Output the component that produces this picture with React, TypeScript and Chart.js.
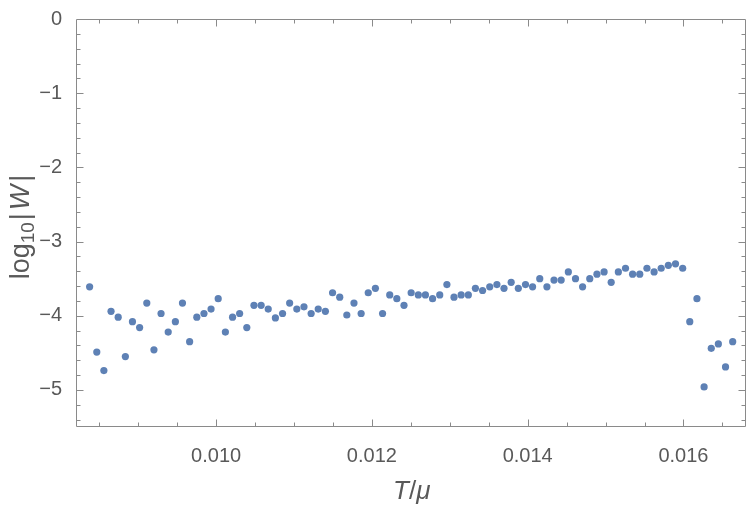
import React, { useEffect, useRef } from "react";
import { Chart, registerables } from "chart.js";

Chart.register(...registerables);

// T/mu values (x)
const T_OVER_MU = [
  0.008376, 0.008468, 0.008559, 0.008651, 0.008743, 0.008835, 0.008926, 0.009018, 0.00911, 0.009202,
  0.009293, 0.009385, 0.009477, 0.009568, 0.00966, 0.009752, 0.009844, 0.009935, 0.010027, 0.010119,
  0.010211, 0.010302, 0.010394, 0.010486, 0.010578, 0.010669, 0.010761, 0.010853, 0.010944, 0.011036,
  0.011128, 0.01122, 0.011311, 0.011403, 0.011495, 0.011587, 0.011678, 0.01177, 0.011862, 0.011953,
  0.012045, 0.012137, 0.012229, 0.01232, 0.012412, 0.012504, 0.012596, 0.012687, 0.012779, 0.012871,
  0.012963, 0.013054, 0.013146, 0.013238, 0.013329, 0.013421, 0.013513, 0.013605, 0.013696, 0.013788,
  0.01388, 0.013972, 0.014063, 0.014155, 0.014247, 0.014338, 0.01443, 0.014522, 0.014614, 0.014705,
  0.014797, 0.014889, 0.014981, 0.015072, 0.015164, 0.015256, 0.015347, 0.015439, 0.015531, 0.015623,
  0.015714, 0.015806, 0.015898, 0.01599, 0.016081, 0.016173, 0.016265, 0.016357, 0.016448, 0.01654,
  0.016632,
];

// log10|W| values (y)
const LOG10_W = [
  -3.61, -4.49, -4.74, -3.94, -4.02, -4.55, -4.08, -4.16, -3.83, -4.46,
  -3.97, -4.22, -4.08, -3.83, -4.35, -4.02, -3.97, -3.91, -3.77, -4.22,
  -4.02, -3.97, -4.16, -3.86, -3.86, -3.91, -4.03, -3.97, -3.83, -3.91,
  -3.88, -3.97, -3.91, -3.94, -3.69, -3.75, -3.99, -3.83, -3.97, -3.69,
  -3.63, -3.97, -3.72, -3.77, -3.86, -3.69, -3.72, -3.72, -3.77, -3.72,
  -3.58, -3.75, -3.72, -3.72, -3.63, -3.66, -3.61, -3.58, -3.63, -3.55,
  -3.63, -3.58, -3.61, -3.5, -3.61, -3.52, -3.52, -3.41, -3.5, -3.61,
  -3.5, -3.44, -3.41, -3.55, -3.41, -3.36, -3.44, -3.44, -3.36, -3.41,
  -3.36, -3.32, -3.3, -3.36, -4.08, -3.77, -4.96, -4.44, -4.38, -4.69,
  -4.35,
];

const X_MAJOR_TICKS = [0.01, 0.012, 0.014, 0.016];
const X_TICK_LABELS = ["0.010", "0.012", "0.014", "0.016"];
const Y_MAJOR_TICKS = [0, -1, -2, -3, -4, -5];
const Y_TICK_LABELS = ["0", "\u22121", "\u22122", "\u22123", "\u22124", "\u22125"];

const X_RANGE = [0.008214, 0.016808];
const Y_RANGE = [-5.5, 0];

const POINT_COLOR = "#5e81b5";
const FRAME_COLOR = "#8a8a8a";
const TEXT_COLOR = "#595959";
const FONT = "'Liberation Sans', Arial, Helvetica, sans-serif";

function majorIndex(list: number[], v: number, eps: number) {
  for (let i = 0; i < list.length; i++) if (Math.abs(list[i] - v) < eps) return i;
  return -1;
}

const framePlugin = {
  id: "mmaFrame",
  afterDraw(chart: any) {
    const { ctx, chartArea, scales } = chart;
    const { left, right, top, bottom } = chartArea;
    const xs = scales.x;
    const ys = scales.y;
    ctx.save();
    ctx.strokeStyle = FRAME_COLOR;
    ctx.lineWidth = 1;
    const L = Math.round(left) - 0.5;
    const R = Math.round(right) - 0.5;
    const T = Math.round(top) + 0.5;
    const B = Math.round(bottom) - 0.5;
    ctx.beginPath();
    ctx.moveTo(L, T);
    ctx.lineTo(R, T);
    ctx.lineTo(R, B);
    ctx.lineTo(L, B);
    ctx.closePath();
    ctx.stroke();

    ctx.beginPath();
    xs.ticks.forEach((t: any) => {
      const px = Math.round(xs.getPixelForValue(t.value)) + 0.5;
      if (px < L + 1 || px > R - 1) return;
      const len = majorIndex(X_MAJOR_TICKS, t.value, 1e-7) >= 0 ? 7 : 4;
      ctx.moveTo(px, B);
      ctx.lineTo(px, B - len);
      ctx.moveTo(px, T);
      ctx.lineTo(px, T + len);
    });
    ys.ticks.forEach((t: any) => {
      const py = Math.round(ys.getPixelForValue(t.value)) + 0.5;
      if (py < T + 1 || py > B - 1) return;
      const len = majorIndex(Y_MAJOR_TICKS, t.value, 1e-6) >= 0 ? 7 : 4;
      ctx.moveTo(L, py);
      ctx.lineTo(L + len, py);
      ctx.moveTo(R, py);
      ctx.lineTo(R - len, py);
    });
    ctx.stroke();

    // Axis titles
    ctx.fillStyle = TEXT_COLOR;
    ctx.textBaseline = "alphabetic";
    ctx.textAlign = "left";

    // x title: T/μ
    const xParts = [
      { t: "T", f: `italic 26px ${FONT}`, dy: 0 },
      { t: "/", f: `26px ${FONT}`, dy: 0 },
      { t: "\u03bc", f: `italic 26px ${FONT}`, dy: 0 },
    ];
    let w = 0;
    xParts.forEach((p) => { ctx.font = p.f; w += ctx.measureText(p.t).width; });
    let cx = (left + right) / 2 - w / 2;
    const xBase = 499;
    xParts.forEach((p) => { ctx.font = p.f; ctx.fillText(p.t, cx, xBase + p.dy); cx += ctx.measureText(p.t).width; });

    // y title: log10|W|
    const yParts = [
      { t: "log", f: `27px ${FONT}`, dy: 0, gap: 0 },
      { t: "10", f: `19px ${FONT}`, dy: 5, gap: 0 },
      { t: "|", f: `27px ${FONT}`, dy: 0, gap: 2 },
      { t: "W", f: `italic 27px ${FONT}`, dy: 0, gap: 3 },
      { t: "|", f: `27px ${FONT}`, dy: 0, gap: 3 },
    ];
    let yw = 0;
    yParts.forEach((p) => { ctx.font = p.f; yw += ctx.measureText(p.t).width + p.gap; });
    ctx.translate(29, (top + bottom) / 2 + 4);
    ctx.rotate(-Math.PI / 2);
    let cy = -yw / 2;
    yParts.forEach((p) => {
      ctx.font = p.f;
      cy += p.gap;
      ctx.fillText(p.t, cy, p.dy);
      cy += ctx.measureText(p.t).width;
    });
    ctx.restore();
  },
};

export default function App() {
  const canvasRef = useRef<HTMLCanvasElement | null>(null);

  useEffect(() => {
    if (!canvasRef.current) return;
    const points = T_OVER_MU.map((x, i) => ({ x, y: LOG10_W[i] }));
    const chart = new Chart(canvasRef.current, {
      type: "scatter",
      data: {
        datasets: [
          {
            data: points,
            backgroundColor: POINT_COLOR,
            borderWidth: 0,
            pointRadius: 3.6,
            pointHoverRadius: 3.6,
          },
        ],
      },
      options: {
        animation: false,
        responsive: true,
        maintainAspectRatio: false,
        layout: { padding: { top: 13, right: 3, left: 0, bottom: 0 } },
        plugins: { legend: { display: false }, tooltip: { enabled: false } },
        scales: {
          x: {
            type: "linear",
            min: X_RANGE[0],
            max: X_RANGE[1],
            grid: { display: false },
            border: { display: false },
            ticks: {
              stepSize: 0.0005,
              includeBounds: false,
              autoSkip: false,
              maxRotation: 0,
              padding: 9,
              color: TEXT_COLOR,
              font: { family: FONT, size: 20 },
              callback: (v: any) => {
                const i = majorIndex(X_MAJOR_TICKS, Number(v), 1e-7);
                return i >= 0 ? X_TICK_LABELS[i] : "";
              },
            },
            afterFit: (s: any) => { s.height = 82; },
          },
          y: {
            type: "linear",
            min: Y_RANGE[0],
            max: Y_RANGE[1],
            grid: { display: false },
            border: { display: false },
            ticks: {
              stepSize: 0.2,
              includeBounds: false,
              autoSkip: false,
              padding: 7,
              color: TEXT_COLOR,
              font: { family: FONT, size: 20 },
              callback: (v: any) => {
                const i = majorIndex(Y_MAJOR_TICKS, Number(v), 1e-6);
                return i >= 0 ? Y_TICK_LABELS[i] : "";
              },
            },
            afterFit: (s: any) => { s.width = 77; },
          },
        },
      },
      plugins: [framePlugin],
    });
    return () => chart.destroy();
  }, []);

  return (
    <div style={{ position: "fixed", left: 0, top: 0, width: 750, height: 509, background: "#fff" }}>
      <canvas ref={canvasRef} />
    </div>
  );
}
